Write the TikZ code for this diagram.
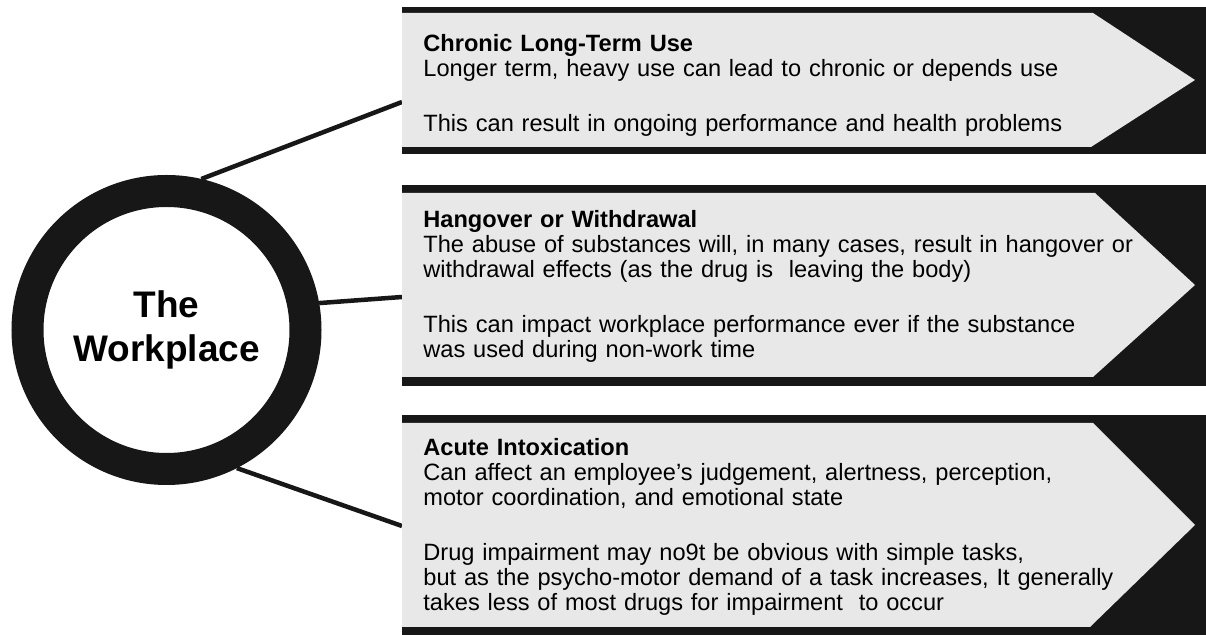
\documentclass[tikz,border=0pt]{standalone}
\usepackage{fontspec}
\setmainfont{Liberation Sans}
\definecolor{cnegro}{HTML}{171717}
\definecolor{cgris}{HTML}{E8E8E8}
\tikzset{
  sombra/.style={fill=cnegro},
  bloque/.style={fill=cgris},
  linea/.style={draw=cnegro,line width=2.25pt},
  anillo/.style={circle,draw=cnegro,line width=16pt,minimum size=139pt,
                 inner sep=0pt,align=center,
                 font=\fontsize{18.5}{22}\selectfont\bfseries},
  et/.style={anchor=base west,inner sep=0pt,text width=380pt,align=left,
             font=\fontsize{11.8}{12.5}\selectfont},
}

\begin{document}
\begin{tikzpicture}[x=0.5pt,y=-0.5pt]
\path[use as bounding box,fill=white] (0,0) rectangle (1206,635);

\node[anillo] (wp) at (166.5,330) {The\\Workplace};

% entradas de los conectores
\coordinate (cron) at (402,102);
\coordinate (hang) at (402,297);
\coordinate (acut) at (402,526);

\draw[linea] (wp.77.6) -- (cron);
\draw[linea] (wp.10.3) -- (hang);
\draw[linea] (wp.-63) -- (acut);

% uso cronico
\fill[sombra] (402,7) rectangle (1206,154);
\fill[bloque] (402,13) -- (1093,13) -- (1195,80) -- (1091,147) -- (402,147) -- cycle;
\node[et] (tcron) at (423,52)
  {\textbf{Chronic Long-Term Use}\\
   Longer term, heavy use can lead to chronic or depends use\\[15pt]
   This can result in ongoing performance and health problems};

% resaca
\fill[sombra] (402,185) rectangle (1206,386);
\fill[bloque] (402,193) -- (1095,193) -- (1195,285) -- (1093,377) -- (402,377) -- cycle;
\node[et] (thang) at (423,228)
  {\textbf{Hangover or Withdrawal}\\
   The abuse of substances will, in many cases, result in hangover or\\
   withdrawal effects (as the drug is\ \ leaving the body)\\[15pt]
   This can impact workplace performance ever if the substance\\
   was used during non-work time};

% intoxicacion aguda
\fill[sombra] (402,415) rectangle (1206,635);
\fill[bloque] (402,423) -- (1093,423) -- (1195,525) -- (1090,627) -- (402,627) -- cycle;
\node[et] (tacut) at (423,456)
  {\textbf{Acute Intoxication}\\
   Can affect an employee’s judgement, alertness, perception,\\
   motor coordination, and emotional state\\[15pt]
   Drug impairment may no9t be obvious with simple tasks,\\
   but as the psycho-motor demand of a task increases, It generally\\
   takes less of most drugs for impairment\ \ to occur};

\end{tikzpicture}
\end{document}
